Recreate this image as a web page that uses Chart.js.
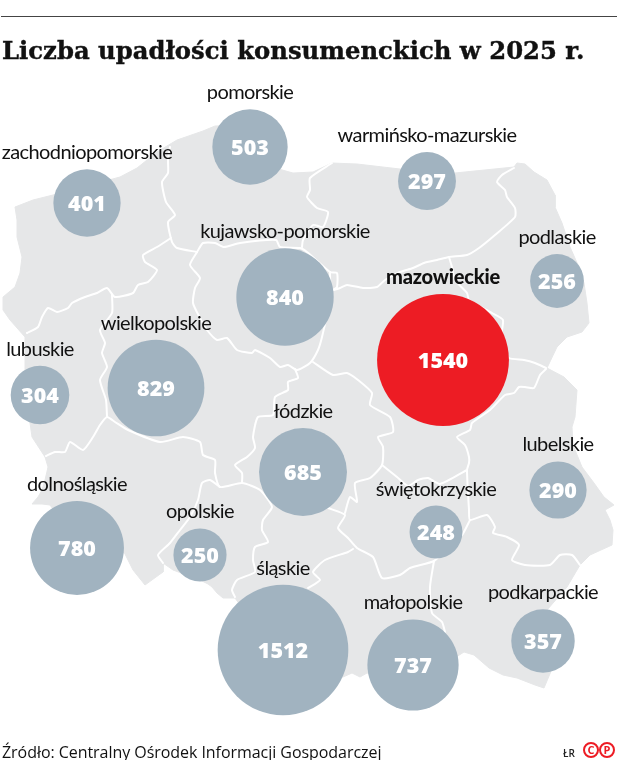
<!DOCTYPE html>
<html lang="pl">
<head>
<meta charset="utf-8">
<title>Liczba upadłości konsumenckich w 2025 r.</title>
<script src="https://cdn.jsdelivr.net/npm/chart.js@4"></script>
<style>
  html, body { margin: 0; padding: 0; background: #fff; }
  #page { position: relative; width: 617px; height: 760px; overflow: hidden; }
  #map { position: absolute; left: 0; top: 0; }
  #rule { position: absolute; left: 1px; right: 0; top: 16px; height: 1px; background: #444; }
  h1 { position: absolute; left: 2px; top: 35px; margin: 0; white-space: nowrap; color: #111;
       font: bold 24.3px/32px "DejaVu Serif", serif; -webkit-text-stroke: 0.4px #111; }
  #source { position: absolute; left: 2px; top: 741px; white-space: nowrap; color: #111;
       font: 500 16px/22px "Open Sans", sans-serif; letter-spacing: -0.05px; }
  #author { position: absolute; left: 563px; top: 747px; color: #222; font: 600 10px/12px "Open Sans", sans-serif; }
  .mark { position: absolute; top: 742px; width: 12px; height: 12px; border: 2px solid #ed1c24; border-radius: 50%;
       color: #ed1c24; font: bold 11px/12px "Open Sans", sans-serif; text-align: center; }
</style>
</head>
<body>
<div id="page">
  <canvas id="map" width="617" height="760"></canvas>
  <div id="rule"></div>
  <h1>Liczba upadłości konsumenckich w 2025 r.</h1>
  <div id="source">Źródło: Centralny Ośrodek Informacji Gospodarczej</div>
  <div id="author">ŁR</div>
  <div class="mark" style="left:583px">C</div>
  <div class="mark" style="left:599px">P</div>
</div>
<script>
// voivodeships and number of bankruptcies
const regions = ["pomorskie", "zachodniopomorskie", "warmińsko-mazurskie", "kujawsko-pomorskie", "podlaskie",
  "mazowieckie", "wielkopolskie", "lubuskie", "łódzkie", "lubelskie", "świętokrzyskie", "dolnośląskie",
  "opolskie", "śląskie", "małopolskie", "podkarpackie"];
const cases = [503, 401, 297, 840, 256, 1540, 829, 304, 685, 290, 248, 780, 250, 1512, 737, 357];
const regionX = [250, 87, 427, 285, 557, 443, 156, 40, 303, 558, 436, 77, 200, 283, 413, 543];
const regionY = [147, 203, 181, 297, 281, 360, 388, 395, 472, 490, 532, 548, 555, 650, 665, 641];
const highlighted = "mazowieckie";

// country outline, in map units
const outline = [[15,207],[33,200],[53,195],[90,185],[120,177],[137,168],[157,152],[177,140],[203,131],[215,126],
  [250,125],[275,168],[293,173],[313,172],[332,163],[357,164],[400,169],[455,173],[514,167],[517,163],[525,164],
  [534,172],[547,180],[555,195],[555,207],[562,223],[570,247],[578,265],[584,283],[587,303],[589,323],[582,332],
  [567,337],[557,347],[547,368],[564,377],[577,390],[575,417],[572,427],[573,445],[582,467],[594,483],[604,497],
  [614,505],[605,510],[610,520],[613,530],[612,545],[590,555],[580,565],[567,587],[547,610],[560,650],[544,688],
  [535,685],[517,678],[503,675],[489,668],[474,655],[464,652],[420,680],[367,673],[360,677],[352,673],[343,677],
  [300,690],[235,598],[223,598],[217,593],[212,587],[208,584],[200,580],[173,570],[163,563],[163,572],[145,585],
  [133,570],[124,552],[90,560],[50,505],[42,504],[32,504],[38,497],[42,490],[45,480],[48,467],[45,457],[32,437],
  [30,423],[25,395],[25,360],[25,337],[10,320],[3,310],[3,297],[15,287],[20,273],[22,257],[17,237],[17,220]];

// white lines between voivodeships
const borders = [
  [[170,147],[168,160],[168,173],[162,182],[166,202],[175,215],[168,222],[172,242],[177,248],[197,252]],
  [[171,238],[157,247],[143,255],[145,262],[157,270],[148,282],[138,285],[133,293],[115,297],[107,288],[97,293],
    [85,297],[72,303],[68,308],[57,312],[48,308],[42,317],[38,327],[27,333]],
  [[112,295],[112,313],[100,330],[105,343],[102,353],[107,367],[100,380],[106,400],[107,417]],
  [[46,456],[55,452],[65,452],[70,442],[83,450],[93,437],[100,425],[107,417],[115,422],[128,430],[160,442],[183,437],
    [200,442],[203,455],[215,460],[215,473],[220,487],[242,483],[260,490],[272,507],[263,520],[262,530],[268,542],
    [255,547],[253,560],[255,572],[237,580],[232,590],[235,597]],
  [[220,487],[210,480],[202,483],[198,500],[190,517],[180,530],[170,543],[158,555],[163,563]],
  [[242,483],[242,473],[235,465],[247,457],[255,448],[253,437],[258,417],[273,415],[275,397],[288,390],[288,382],
    [298,378],[295,369]],
  [[197,252],[190,265],[200,278],[195,288],[193,303],[200,318],[207,330],[217,340],[227,338],[237,350],[252,353],
    [255,350],[270,358],[280,367],[288,365],[297,370],[310,363],[318,350],[322,337],[330,300],[330,272]],
  [[197,252],[203,243],[215,243],[224,247],[240,243],[276,240],[280,247],[300,248],[307,252],[330,272],[337,273],
    [337,287],[333,290],[340,288],[347,285],[363,288],[377,287],[385,280],[400,272],[413,268],[424,263],[437,260],
    [449,257],[467,255],[479,248],[495,235],[515,217],[515,208],[507,197],[505,190],[497,182],[502,175],[514,168]],
  [[332,163],[310,178],[310,190],[307,197],[317,208],[328,212],[323,227],[313,225],[303,240],[302,247]],
  [[449,257],[452,267],[455,280],[467,293],[469,300],[492,313],[503,320],[500,345],[509,358],[524,360],[535,363],[546,368]],
  [[546,369],[540,375],[534,388],[525,387],[519,387],[514,393],[505,395],[490,410],[472,423],[470,430],[457,437],
    [465,445],[469,457],[469,463],[467,470],[469,510],[470,520],[487,515],[495,527],[493,533],[507,537],[519,545],
    [512,560],[525,565],[550,565],[560,555],[572,555],[580,565]],
  [[470,520],[462,535],[445,550],[434,561],[410,568],[400,575],[382,578],[373,557],[357,548],[348,538],[338,528],
    [345,515],[328,508]],
  [[345,513],[350,497],[357,502],[355,483],[370,478],[382,465],[383,447],[378,437],[393,432],[390,417],[370,405],
    [372,393],[358,380],[347,373],[333,375],[313,362]],
  [[382,465],[397,477],[408,486],[418,480],[428,478],[440,484],[467,470]],
  [[353,549],[348,552],[325,560],[313,572],[320,580],[308,588]],
  [[434,561],[430,587],[432,613],[442,622],[445,632]]
];

const toPoints = (pairs) => pairs.map((p) => ({ x: p[0], y: p[1] }));

// area of the bubble follows the value
const bubbleSize = (v) => Math.sqrt(v) * 1.68;

// names above the bubbles and values inside them
const bubbleText = {
  id: "bubbleText",
  afterDatasetsDraw(chart) {
    const { ctx, scales } = chart;
    ctx.save();
    ctx.textAlign = "center";
    regions.forEach((name, i) => {
      const px = scales.x.getPixelForValue(regionX[i]);
      const py = scales.y.getPixelForValue(regionY[i]);
      ctx.fillStyle = "#111";
      ctx.textBaseline = "alphabetic";
      ctx.font = name === highlighted ? "900 20px Lato" : "400 20px Lato";
      ctx.letterSpacing = name === highlighted ? "-0.2px" : "-0.6px";
      ctx.fillText(name, px, py - bubbleSize(cases[i]) - 10);
      ctx.fillStyle = "#fff";
      ctx.textBaseline = "middle";
      ctx.font = '800 21.5px "Open Sans"';
      ctx.letterSpacing = "0px";
      ctx.fillText(String(cases[i]), px, py + 1.5);
    });
    ctx.restore();
  },
};

new Chart(document.getElementById("map"), {
  data: {
    datasets: [
      {
        type: "bubble",
        order: 0,
        data: regions.map((name, i) => ({ x: regionX[i], y: regionY[i], r: bubbleSize(cases[i]) })),
        backgroundColor: regions.map((name) => (name === highlighted ? "#ed1c24" : "#a1b3c0")),
        borderWidth: 0,
      },
      ...borders.map((b) => ({
        type: "line",
        order: 1,
        data: toPoints(b),
        borderColor: "#ffffff",
        borderWidth: 2,
        borderJoinStyle: "round",
        borderCapStyle: "round",
        tension: 0.2,
        pointRadius: 0,
        fill: false,
      })),
      {
        type: "line",
        order: 2,
        data: toPoints(outline.concat([outline[0]])),
        borderColor: "#e6e7e8",
        borderWidth: 1,
        backgroundColor: "#e6e7e8",
        pointRadius: 0,
        fill: "shape",
      },
    ],
  },
  options: {
    responsive: false,
    animation: false,
    events: [],
    layout: { padding: 0, autoPadding: false },
    plugins: { legend: { display: false }, tooltip: { enabled: false }, title: { display: false } },
    scales: {
      x: { type: "linear", display: false, min: 0, max: 617 },
      y: { type: "linear", display: false, min: 0, max: 760, reverse: true },
    },
  },
  plugins: [bubbleText],
});
</script>
</body>
</html>
